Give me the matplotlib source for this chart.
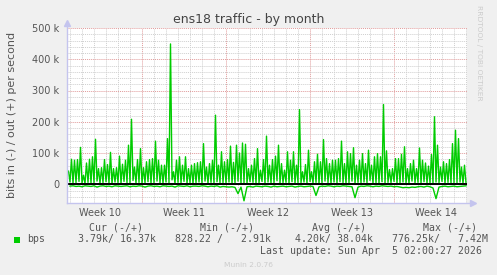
import matplotlib
matplotlib.use("Agg")
import matplotlib.pyplot as plt
import matplotlib.transforms as mtransforms
from matplotlib.patches import Rectangle
import numpy as np
import pandas as pd

W, H = 497, 275

TITLE = "ens18 traffic - by month"
Y_LABEL = "bits in (-) / out (+) per second"

# out (+) traffic in kbit/s, one peak and one trough every 6 hours
OUT_PEAKS_K = [
    42, 80, 77, 79, 118, 29, 68, 80, 88, 144, 50, 53, 79, 63, 102, 50, 53, 90, 64, 77, 125, 208, 55, 79, 114, 53, 72,
    79, 82, 138, 77, 61, 61, 146, 449, 40, 77, 88, 61, 88, 50, 61, 66, 69, 72, 130, 55, 66, 77, 221, 61, 104, 72,
    79, 122, 70, 125, 100, 132, 128, 50, 61, 82, 114, 45, 79, 154, 61, 79, 90, 125, 66, 45, 104, 77, 104, 61, 239, 40, 63,
    109, 40, 72, 96, 72, 143, 82, 66, 77, 77, 82, 138, 66, 104, 98, 117, 61, 77, 98, 66, 109, 61, 88, 98, 88, 255, 107,
    47, 50, 82, 82, 96, 120, 50, 66, 77, 50, 116, 77, 68, 58, 95, 216, 125, 55, 72, 66, 79, 130, 173, 146, 55, 61, 77,
]
OUT_TROUGHS_K = [
    7, 3, 5, 9, 4, 2, 6, 4, 5, 10, 3, 5, 8, 4, 2, 7, 5, 3, 9, 5, 3, 12, 4, 6, 3, 5, 8,
    3, 5, 10, 4, 3, 7, 5, 14, 3, 6, 4, 9, 3, 5, 2, 5, 7, 4, 10, 3, 6, 3, 8, 5, 5,
    4, 7, 3, 5, 10, 3, 5, 4, 8, 6, 3, 5, 9, 3, 7, 4, 5, 11, 3, 5, 6, 3, 8, 4, 5, 5, 7,
    3, 9, 4, 6, 3, 5, 10, 5, 3, 7, 4, 8, 5, 3, 5, 10, 3, 6, 4, 7, 5, 12, 3, 5, 4, 8, 3,
    6, 5, 9, 3, 5, 7, 4, 3, 10, 5, 6, 3, 8, 4, 5, 3, 7, 5, 9, 3, 6, 4, 5, 5, 7, 3, 4,
]
# in (-) traffic in kbit/s, drawn below zero
IN_K = [
    6, 5, 7, 6, 8, 5, 6, 7, 5, 9, 6, 5, 7, 6, 8, 5, 6, 7, 6, 5, 8, 6, 7, 5, 6, 9, 6,
    5, 7, 6, 8, 5, 6, 7, 6, 9, 5, 6, 7, 5, 8, 6, 6, 7, 5, 6, 8, 6, 7, 5, 9, 7, 8,
    9, 8, 10, 30, 9, 53, 8, 7, 9, 6, 7, 8, 6, 7, 9, 6, 8, 7, 6, 8, 7, 6, 9, 7, 6, 8, 7,
    6, 7, 36, 8, 6, 7, 5, 6, 8, 6, 7, 5, 6, 7, 8, 43, 9, 6, 7, 5, 6, 8, 6, 7, 5, 6, 7,
    6, 8, 7, 9, 11, 10, 11, 9, 10, 8, 7, 9, 6, 8, 12, 46, 9, 7, 6, 8, 7, 6, 8, 7, 6, 5, 7,
]

END = pd.Timestamp("2026-04-05 02:00")
SPAN_H = 800  # 400 px at 2 h per px
START = END - pd.Timedelta(hours=SPAN_H)
FIRST_PEAK = pd.Timestamp("2026-03-02 21:00")

WEEK_STARTS = pd.to_datetime(["2026-03-02", "2026-03-09", "2026-03-16", "2026-03-23", "2026-03-30"])
WEEK_LABELS = ["Week 10", "Week 11", "Week 12", "Week 13", "Week 14"]
Y_TICKS = [0, 100e3, 200e3, 300e3, 400e3, 500e3]
Y_TICK_LABELS = ["0", "100 k", "200 k", "300 k", "400 k", "500 k"]

LEGEND_NAME = "bps"
LEGEND_HEADERS = ["Cur (-/+)", "Min (-/+)", "Avg (-/+)", "Max (-/+)"]
LEGEND_VALUES = ["3.79k/ 16.37k", "828.22 /   2.91k", "4.20k/ 38.04k", "776.25k/   7.42M"]
LAST_UPDATE = "Last update: Sun Apr  5 02:00:27 2026"
FOOTER = "Munin 2.0.76"
WATERMARK = "RRDTOOL / TOBI OETIKER"

GREEN = "#00cc00"
TEXT = "#555555"
MONO = "DejaVu Sans Mono"


def fx(x):
    return x / W


def fy(y):
    return 1 - y / H


def hours(t):
    # hours since the left edge of the graph
    return (pd.DatetimeIndex(t) - START) / pd.Timedelta(hours=1)


n = min(len(OUT_PEAKS_K), len(OUT_TROUGHS_K), len(IN_K))
peak_t = pd.date_range(FIRST_PEAK, periods=n, freq="6h")
trough_t = peak_t + pd.Timedelta(hours=3)

out_x = np.empty(2 * n)
out_x[0::2] = hours(peak_t)
out_x[1::2] = hours(trough_t)
out_v = np.empty(2 * n)
out_v[0::2] = np.array(OUT_PEAKS_K[:n]) * 1000
out_v[1::2] = np.array(OUT_TROUGHS_K[:n]) * 1000
in_v = -np.array(IN_K[:n]) * 1000

fig = plt.figure(figsize=(W / 100, H / 100), dpi=100)
fig.patch.set_facecolor("#f0f0f0")
ax = fig.add_axes([fx(67), fy(203), 400 / W, 175 / H])
ax.set_facecolor("white")

ax.plot(out_x, out_v, color=GREEN, linewidth=1.0, zorder=3)
ax.plot(hours(trough_t), in_v, color=GREEN, linewidth=1.0, zorder=3)
ax.axhline(0, color="black", linewidth=1.4, zorder=4)

ax.set_xlim(0, SPAN_H)
ax.set_ylim(-60e3, 500e3)

# grid: gray dotted minor, reddish dotted major
ax.set_yticks(Y_TICKS)
ax.set_yticklabels(Y_TICK_LABELS)
ax.set_yticks(np.arange(-60e3, 500e3, 20e3), minor=True)
week_x = hours(WEEK_STARTS)
ax.set_xticks(week_x[week_x > 0])
ax.set_xticklabels([])
days = pd.date_range("2026-03-03", "2026-04-05", freq="D")
ax.set_xticks(hours(days), minor=True)
ax.grid(which="minor", color="#cfcfcf", linestyle=(0, (1, 1)), linewidth=0.7)
ax.grid(which="major", color="#e09a9a", linestyle=(0, (1, 1)), linewidth=0.7)
ax.set_axisbelow(True)

ax.tick_params(which="both", length=0)
ax.tick_params(axis="y", labelsize=7, labelcolor=TEXT, pad=5.5)
for s in ax.spines.values():
    s.set_visible(False)

# axes with arrows
axis_c = "#c4c4ee"
ax.plot([0, 0], [0, 1.02], transform=ax.transAxes, color=axis_c, lw=1, clip_on=False, zorder=5)
ax.plot([0, 1.012], [0, 0], transform=ax.transAxes, color=axis_c, lw=1, clip_on=False, zorder=5)
ax.plot([0], [1.03], marker="^", ms=4, color=axis_c, transform=ax.transAxes, clip_on=False, zorder=5)
ax.plot([1.015], [0], marker=">", ms=4, color=axis_c, transform=ax.transAxes, clip_on=False, zorder=5)

# week labels centred in the week
trans = mtransforms.blended_transform_factory(ax.transData, fig.transFigure)
for wx, label in zip(week_x, WEEK_LABELS):
    ax.text(wx + 84, fy(215.7), label, transform=trans,
            ha="center", va="baseline", fontsize=7, color=TEXT)

fig.text(0.5, fy(23.3), TITLE, ha="center", va="baseline", fontsize=9, color="#444444")
fig.text(fx(12), fy(115), Y_LABEL, rotation=90, ha="center", va="center",
         fontsize=8, color=TEXT)
fig.text(fx(479), fy(5), WATERMARK, rotation=270, ha="center", va="top",
         fontsize=5.4, color="#cccccc")

# legend
fig.patches.append(Rectangle((fx(14), fy(243)), 6 / W, 6 / H, transform=fig.transFigure,
                             facecolor=GREEN, edgecolor="none"))
fig.text(fx(26.7), fy(242.3), LEGEND_NAME, ha="left", va="baseline",
         fontsize=7.1, family=MONO, color=TEXT)
header_x = [89, 200, 311.7, 422.7]
value_x = [78.3, 174.7, 295, 391.7]
for hx, vx, head, val in zip(header_x, value_x, LEGEND_HEADERS, LEGEND_VALUES):
    fig.text(fx(hx), fy(230.7), head, ha="left", va="baseline",
             fontsize=7.1, family=MONO, color=TEXT)
    fig.text(fx(vx), fy(242.3), val, ha="left", va="baseline",
             fontsize=7.1, family=MONO, color=TEXT)
fig.text(fx(482.5), fy(254.3), LAST_UPDATE, ha="right", va="baseline",
         fontsize=7.1, family=MONO, color=TEXT)
fig.text(0.5, fy(266.7), FOOTER, ha="center", va="baseline", fontsize=5.4, color="#cccccc")

fig.savefig("out.png", dpi=100, facecolor=fig.get_facecolor())
